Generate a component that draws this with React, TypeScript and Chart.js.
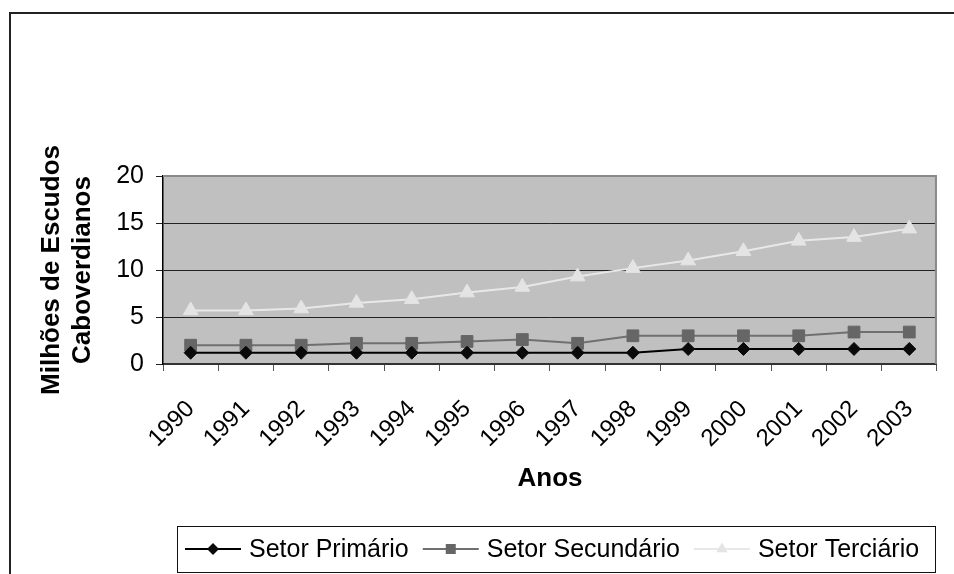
import React, { useEffect, useRef } from 'react';
import { Chart, registerables } from 'chart.js';

Chart.register(...registerables);

const years = ['1990', '1991', '1992', '1993', '1994', '1995', '1996', '1997', '1998', '1999', '2000', '2001', '2002', '2003'];
const setorPrimario = [1.2, 1.2, 1.2, 1.2, 1.2, 1.2, 1.2, 1.2, 1.2, 1.6, 1.6, 1.6, 1.6, 1.6];
const setorSecundario = [2.0, 2.0, 2.0, 2.2, 2.2, 2.4, 2.6, 2.2, 3.0, 3.0, 3.0, 3.0, 3.4, 3.4];
const setorTerciario = [5.7, 5.7, 5.9, 6.5, 6.9, 7.6, 8.2, 9.3, 10.2, 11.0, 12.0, 13.1, 13.5, 14.4];
const seriesNames = ['Setor Primário', 'Setor Secundário', 'Setor Terciário'];
const yAxisTitle = ['Milhões de Escudos', 'Caboverdianos'];
const xAxisTitle = 'Anos';
const yMin = 0;
const yMax = 20;
const yStep = 5;

const FONT = '"Liberation Sans", Arial, Helvetica, sans-serif';

const styles = [
  { line: '#000000', fill: '#0a0a0a', marker: 'diamond' },
  { line: '#707070', fill: '#666666', marker: 'square' },
  { line: '#e8e8e8', fill: '#e4e4e4', marker: 'triangle' },
];

function drawMarker(ctx: CanvasRenderingContext2D, kind: string, x: number, y: number, color: string) {
  ctx.save();
  ctx.fillStyle = color;
  ctx.beginPath();
  if (kind === 'diamond') {
    const r = 6;
    ctx.moveTo(x, y - r);
    ctx.lineTo(x + r, y);
    ctx.lineTo(x, y + r);
    ctx.lineTo(x - r, y);
    ctx.closePath();
  } else if (kind === 'square') {
    const h = 5;
    ctx.rect(x - h, y - h, 2 * h, 2 * h);
  } else {
    const r = 6.5;
    ctx.moveTo(x, y - r);
    ctx.lineTo(x + r * 0.866, y + r / 2);
    ctx.lineTo(x - r * 0.866, y + r / 2);
    ctx.closePath();
  }
  ctx.fill();
  ctx.restore();
}

export default function App() {
  const ref = useRef<HTMLCanvasElement>(null);

  useEffect(() => {
    const canvas = ref.current;
    if (!canvas) return;

    const framePlugin = {
      id: 'framePlugin',
      beforeDraw(chart: any) {
        const { ctx, chartArea: a } = chart;
        ctx.save();
        ctx.fillStyle = '#ffffff';
        ctx.fillRect(0, 0, chart.width, chart.height);
        ctx.fillStyle = '#C0C0C0';
        ctx.fillRect(a.left, a.top, a.right - a.left, a.bottom - a.top);
        ctx.strokeStyle = '#222222';
        ctx.lineWidth = 2;
        ctx.beginPath();
        ctx.moveTo(10, chart.height + 5);
        ctx.lineTo(10, 13);
        ctx.lineTo(chart.width + 5, 13);
        ctx.stroke();
        ctx.restore();
      },
      beforeDatasetsDraw(chart: any) {
        const { ctx, chartArea: a } = chart;
        ctx.save();
        ctx.strokeStyle = '#8a8a8a';
        ctx.lineWidth = 2;
        ctx.beginPath();
        ctx.moveTo(a.left, a.top);
        ctx.lineTo(a.right - 1, a.top);
        ctx.lineTo(a.right - 1, a.bottom);
        ctx.stroke();
        ctx.restore();
      },
      afterDraw(chart: any) {
        const { ctx } = chart;
        ctx.save();
        const boxL = 177, boxT = 526, boxR = 935, boxB = 572;
        ctx.strokeStyle = '#111111';
        ctx.lineWidth = 1;
        ctx.strokeRect(boxL + 0.5, boxT + 0.5, boxR - boxL, boxB - boxT);
        ctx.font = `25px ${FONT}`;
        ctx.textBaseline = 'middle';
        ctx.textAlign = 'left';
        const cy = 549;
        let x = 185;
        seriesNames.forEach((name, i) => {
          const s = styles[i];
          ctx.strokeStyle = s.line;
          ctx.lineWidth = 2;
          ctx.beginPath();
          ctx.moveTo(x, cy);
          ctx.lineTo(x + 56, cy);
          ctx.stroke();
          drawMarker(ctx, s.marker, x + 28, cy, s.fill);
          x += 56 + 8;
          ctx.fillStyle = '#000000';
          ctx.fillText(name, x, cy + 1);
          x += ctx.measureText(name).width + 14;
        });
        ctx.restore();
      },
    };

    const chart = new Chart(canvas, {
      type: 'line',
      data: {
        labels: years,
        datasets: [
          {
            label: seriesNames[0],
            data: setorPrimario,
            borderColor: styles[0].line,
            backgroundColor: styles[0].fill,
            pointBackgroundColor: styles[0].fill,
            pointBorderColor: styles[0].fill,
            borderWidth: 2,
            pointStyle: 'rectRot',
            pointRadius: 6.5,
            pointBorderWidth: 1,
            tension: 0,
          },
          {
            label: seriesNames[1],
            data: setorSecundario,
            borderColor: styles[1].line,
            backgroundColor: styles[1].fill,
            pointBackgroundColor: styles[1].fill,
            pointBorderColor: styles[1].fill,
            borderWidth: 2,
            pointStyle: 'rect',
            pointRadius: 8.3,
            pointBorderWidth: 1,
            tension: 0,
          },
          {
            label: seriesNames[2],
            data: setorTerciario,
            borderColor: styles[2].line,
            backgroundColor: styles[2].fill,
            pointBackgroundColor: styles[2].fill,
            pointBorderColor: styles[2].fill,
            borderWidth: 2,
            pointStyle: 'triangle',
            pointRadius: 8.5,
            pointBorderWidth: 1,
            tension: 0,
          },
        ],
      },
      options: {
        responsive: false,
        animation: false,
        events: [],
        devicePixelRatio: 1,
        layout: { padding: { top: 176, left: 0, right: 4, bottom: 0 } },
        plugins: {
          legend: { display: false },
          tooltip: { enabled: false },
          title: { display: false },
        },
        scales: {
          x: {
            type: 'category',
            offset: true,
            grid: {
              offset: true,
              drawOnChartArea: false,
              drawTicks: true,
              tickLength: 7,
              color: '#555555',
              lineWidth: 1,
            },
            border: { color: '#333333', width: 2 },
            ticks: {
              color: '#000000',
              font: { family: FONT, size: 24 },
              minRotation: 45,
              maxRotation: 45,
              autoSkip: false,
              padding: 24,
            },
            title: {
              display: true,
              text: xAxisTitle,
              color: '#000000',
              font: { family: FONT, size: 26, weight: 'bold' },
              padding: { top: 0, bottom: 80 },
            },
            afterFit(scale: any) {
              scale.height = 210;
            },
          },
          y: {
            type: 'linear',
            position: 'left',
            min: yMin,
            max: yMax,
            grid: {
              color: (c: any) => (c.tick && (c.tick.value === yMax || c.tick.value === yMin) ? 'rgba(0,0,0,0)' : '#222222'),
              tickColor: '#222222',
              tickLength: 7,
              lineWidth: 1,
              drawTicks: true,
            },
            border: { color: '#000000', width: 1.5 },
            ticks: {
              stepSize: yStep,
              color: '#000000',
              font: { family: FONT, size: 25 },
              padding: 12,
            },
            title: {
              display: true,
              text: yAxisTitle,
              color: '#000000',
              font: { family: FONT, size: 26, weight: 'bold', lineHeight: 1.2 },
              padding: { top: 36, bottom: 0 },
            },
            afterFit(scale: any) {
              scale.width = 163;
            },
          },
        },
      },
      plugins: [framePlugin],
    } as any);

    return () => {
      chart.destroy();
    };
  }, []);

  return (
    <div style={{ position: 'absolute', left: 0, top: 0, width: 954, height: 574, overflow: 'hidden', background: '#fff' }}>
      <canvas ref={ref} width={954} height={574} style={{ display: 'block', width: 954, height: 574 }} />
    </div>
  );
}
